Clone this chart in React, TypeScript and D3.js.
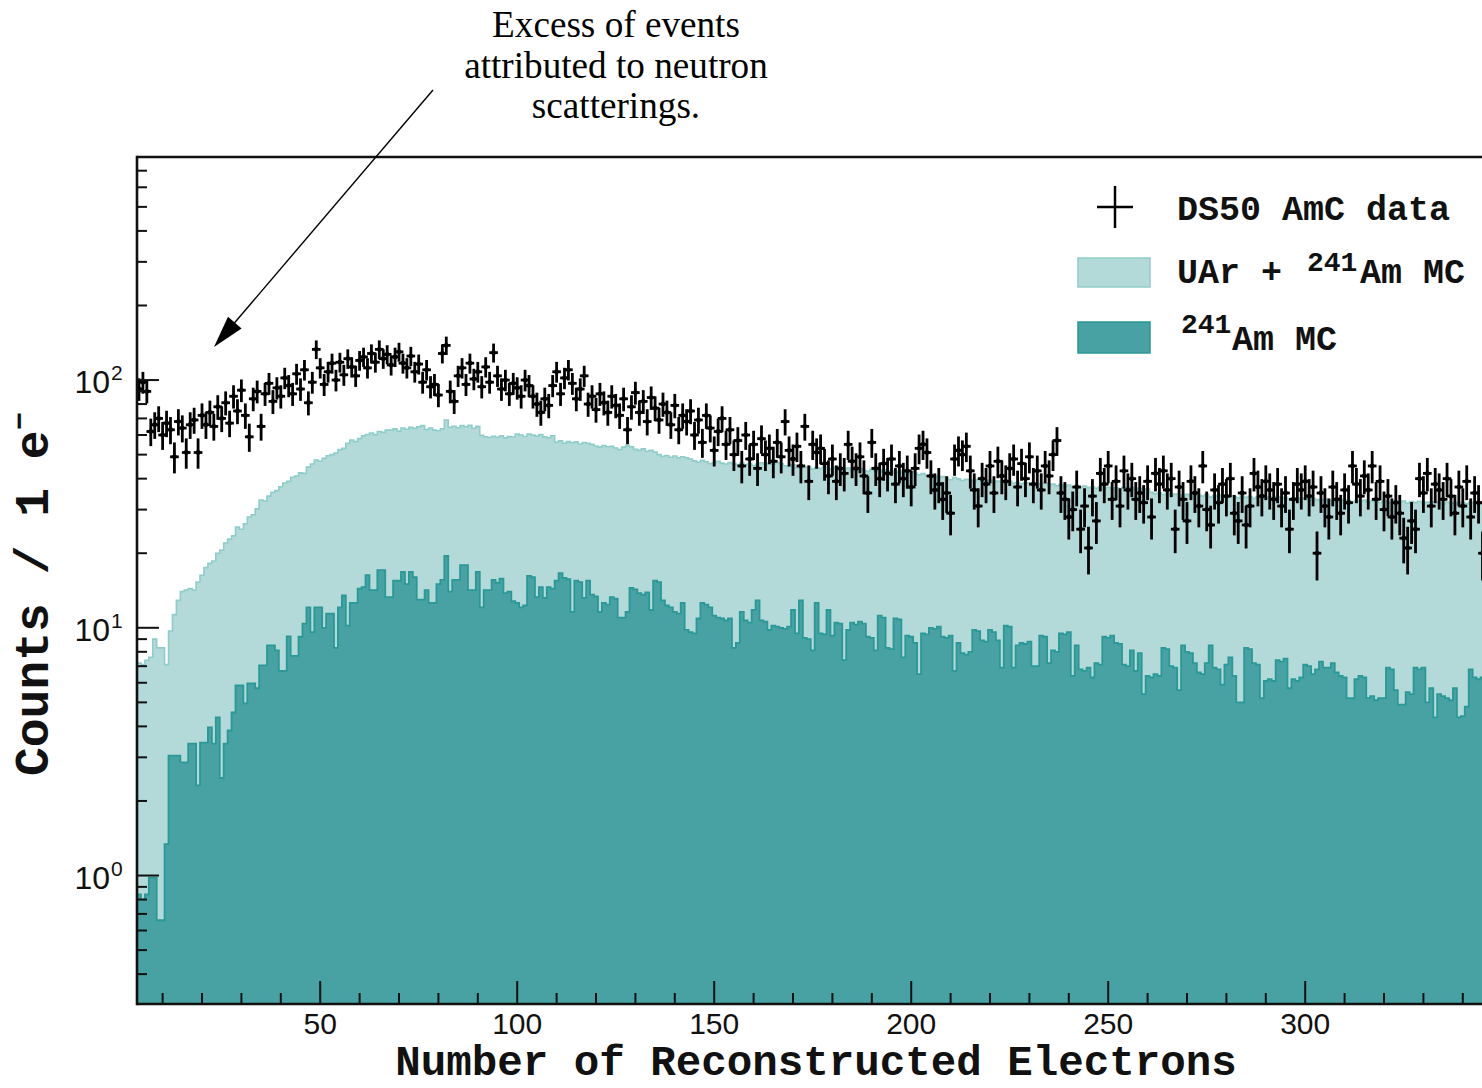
import React from "react";
import * as d3 from "d3";

// Histogram binning: 1 e- wide bins, the first one centred on 4 e-
const FIRST_BIN = 4;

// DS50 AmC data, counts per bin (bins 4 ... 345)
const dataCounts = [
  92, 98, 90, 62, 66, 70, 60, 67, 63, 49,
  68, 64, 51, 66, 69, 51, 72, 66, 74, 65,
  78, 70, 81, 67, 86, 75, 91, 72, 59, 84,
  90, 65, 88, 97, 82, 93, 86, 102, 95, 88,
  106, 92, 110, 81, 98, 133, 112, 96, 108, 117,
  100, 118, 105, 122, 113, 104, 120, 124, 112, 128,
  118, 133, 122, 127, 115, 124, 130, 117, 112, 125,
  108, 116, 98, 110, 94, 96, 87, 128, 138, 90,
  82, 104, 112, 96, 117, 101, 108, 94, 113, 98,
  129, 104, 92, 100, 88, 97, 93, 86, 100, 95,
  86, 80, 74, 84, 79, 95, 108, 88, 102, 110,
  97, 84, 92, 104, 80, 86, 76, 88, 81, 74,
  86, 79, 72, 84, 63, 78, 89, 74, 82, 68,
  85, 77, 69, 80, 74, 66, 79, 63, 72, 68,
  75, 60, 69, 56, 72, 64, 52, 62, 70, 55,
  63, 50, 57, 45, 60, 48, 55, 44, 58, 50,
  53, 47, 56, 49, 68, 52, 48, 54, 45, 65,
  39, 55, 51, 53, 46, 41, 48, 39, 44, 42,
  55, 47, 44, 49, 41, 35, 56, 44, 40, 46,
  42, 48, 38, 45, 40, 43, 37, 44, 53, 55,
  51, 41, 36, 38, 33, 35, 29, 48, 52, 50,
  54, 43, 36, 31, 40, 38, 45, 35, 47, 41,
  39, 44, 48, 37, 46, 40, 49, 38, 43, 36,
  45, 41, 50, 57, 35, 33, 28, 30, 37, 25,
  31, 21, 34, 27, 42, 38, 45, 33, 39, 31,
  43, 36, 40, 33, 35, 32, 39, 28, 42, 38,
  43, 36, 40, 25, 37, 33, 27, 39, 35, 31,
  45, 30, 26, 36, 32, 38, 34, 40, 29, 27,
  35, 26, 31, 42, 37, 34, 39, 36, 33, 38,
  31, 35, 25, 33, 38, 36, 39, 34, 37, 20,
  35, 31, 28, 37, 33, 29, 36, 32, 45, 38,
  34, 41, 36, 45, 33, 39, 30, 34, 28, 32,
  29, 23, 21, 27, 25, 40, 35, 42, 31, 38,
  36, 33, 40, 34, 29, 37, 31, 39, 28, 35,
  32, 20,
];

// UAr + 241Am Monte Carlo prediction (bins 4 ... 345)
const uarAmMC = [
  7.2, 7.1, 7.4, 7.6, 9.0, 8.3, 8.3, 7.1, 9.7, 11.3,
  12.9, 14.0, 14.2, 14.4, 14.2, 15.3, 16.3, 17.5, 18.2, 18.6,
  20.0, 20.6, 22.0, 22.8, 23.5, 25.5, 25.0, 26.3, 28.0, 28.6,
  30.2, 32.8, 32.5, 34.0, 35.2, 35.8, 37.1, 38.4, 39.0, 40.5,
  41.0, 42.2, 42.0, 44.5, 45.8, 47.6, 47.0, 48.3, 49.5, 50.0,
  50.8, 52.4, 53.0, 55.5, 57.3, 56.4, 58.0, 59.5, 60.3, 61.1,
  60.2, 62.0, 61.5, 62.8, 62.8, 63.5, 62.2, 64.0, 63.3, 64.5,
  63.8, 64.8, 65.5, 63.2, 64.0, 62.8, 62.4, 63.5, 69.0, 64.5,
  65.0, 64.2, 65.5, 64.8, 65.6, 63.9, 65.0, 59.8, 59.0, 58.6,
  59.3, 58.8, 59.5, 58.4, 59.1, 58.9, 60.6, 60.0, 59.2, 60.5,
  60.0, 59.4, 60.2, 59.0, 58.5, 59.6, 56.2, 56.8, 55.6, 56.4,
  55.8, 56.3, 55.2, 56.0, 55.5, 55.0, 54.2, 53.6, 54.4, 53.8,
  54.0, 53.2, 52.4, 53.6, 54.5, 53.8, 52.5, 52.0, 52.8, 51.6,
  52.0, 51.2, 50.0, 49.2, 49.6, 48.8, 49.4, 48.5, 49.0, 48.6,
  48.0, 47.2, 46.6, 47.4, 46.8, 46.0, 46.5, 47.0, 46.2, 45.8,
  46.4, 46.0, 45.6, 46.2, 45.5, 46.0, 45.2, 45.8, 46.3, 45.7,
  46.2, 45.6, 46.4, 45.9, 45.1, 44.8, 45.5, 44.2, 44.9, 44.4,
  44.6, 43.7, 44.3, 44.0, 44.8, 43.5, 43.9, 44.5, 43.6, 43.8,
  44.1, 43.4, 43.0, 43.9, 43.2, 42.8, 43.6, 43.1, 42.5, 43.3,
  42.7, 43.0, 42.2, 42.9, 42.4, 41.8, 42.6, 42.0, 41.5, 41.9,
  41.2, 40.6, 41.0, 40.3, 40.8, 40.1, 39.6, 40.4, 39.9, 39.3,
  39.8, 39.5, 39.0, 39.7, 39.2, 38.8, 39.4, 38.6, 39.1, 38.9,
  38.5, 39.0, 38.3, 38.7, 38.1, 38.6, 38.4, 37.8, 38.2, 37.9,
  38.3, 37.6, 38.0, 37.4, 37.9, 37.2, 37.7, 37.0, 37.5, 36.9,
  37.3, 36.8, 37.1, 36.6, 37.0, 36.4, 36.9, 36.2, 36.7, 36.5,
  36.9, 36.4, 36.8, 36.2, 36.6, 35.9, 36.3, 35.2, 34.8, 35.1,
  34.5, 34.9, 34.2, 34.7, 34.4, 34.0, 34.6, 34.1, 33.8, 34.3,
  34.0, 34.5, 33.7, 34.2, 33.9, 34.4, 33.6, 34.1, 33.8, 33.5,
  34.0, 33.6, 33.9, 33.3, 33.8, 33.5, 33.2, 33.7, 33.4, 33.9,
  33.3, 33.6, 33.1, 33.5, 33.0, 33.4, 33.2, 32.8, 33.3, 32.9,
  32.6, 33.0, 32.4, 32.8, 32.5, 32.9, 32.3, 32.7, 32.2, 32.6,
  32.4, 32.8, 32.1, 32.5, 32.3, 32.0, 32.6, 32.2, 31.9, 32.4,
  32.1, 32.5, 31.8, 32.3, 32.0, 32.4, 31.7, 32.2, 31.9, 32.3,
  32.0, 31.6, 32.2, 31.8, 32.1, 31.5, 32.0, 31.7, 32.2, 31.9,
  31.6, 32.0,
];

// 241Am Monte Carlo prediction (bins 4 ... 345)
const amMC = [
  0.84, 0.8, 0.84, 0.98, 0.98, 0.66, 0.66, 1.34, 3.05, 3.05,
  3.05, 2.86, 2.86, 3.41, 3.41, 2.31, 3.44, 3.44, 3.96, 3.41,
  4.35, 2.48, 3.41, 3.85, 4.55, 5.85, 5.85, 4.95, 5.96, 5.96,
  5.7, 7.05, 7.05, 8.5, 8.5, 8.1, 6.7, 6.7, 9.24, 7.7,
  7.7, 9.2, 10.4, 12.1, 9.6, 12.1, 12.1, 10.0, 11.4, 11.4,
  8.3, 12.1, 13.5, 10.2, 12.6, 12.6, 14.4, 14.6, 16.3, 14.2,
  14.2, 17.1, 17.1, 13.3, 13.3, 15.5, 15.5, 16.8, 15.0, 16.8,
  16.0, 13.0, 13.0, 14.2, 12.6, 12.6, 15.0, 15.6, 19.5, 14.0,
  15.6, 15.6, 17.9, 17.9, 14.2, 14.2, 16.8, 12.1, 14.2, 14.2,
  15.6, 15.2, 15.8, 13.8, 14.0, 12.8, 12.6, 12.1, 12.3, 16.2,
  16.0, 13.3, 14.6, 13.2, 14.6, 14.4, 15.5, 16.6, 15.9, 15.7,
  11.6, 15.5, 15.3, 13.2, 15.5, 13.6, 13.4, 11.6, 12.6, 12.4,
  13.3, 13.1, 11.0, 11.0, 11.6, 14.5, 14.3, 13.8, 13.6, 13.9,
  11.8, 15.5, 15.3, 12.9, 12.3, 12.1, 11.6, 11.4, 12.6, 9.8,
  9.6, 9.5, 10.9, 12.6, 12.4, 12.1, 11.2, 11.0, 10.9, 10.7,
  10.9, 8.3, 8.7, 11.6, 10.7, 10.5, 11.8, 12.9, 10.7, 10.6,
  9.8, 10.2, 10.1, 10.0, 9.9, 10.1, 11.8, 9.5, 12.9, 9.1,
  9.0, 8.1, 12.6, 9.5, 9.4, 11.8, 9.3, 10.5, 10.4, 7.4,
  9.8, 10.5, 10.3, 10.6, 10.4, 9.2, 9.1, 8.1, 11.2, 11.0,
  8.3, 8.2, 10.9, 10.8, 7.6, 9.3, 9.2, 8.7, 6.5, 9.5,
  9.4, 10.0, 9.9, 10.1, 9.2, 9.1, 9.3, 6.7, 8.7, 7.9,
  7.8, 8.0, 9.8, 9.7, 8.9, 8.8, 9.8, 9.6, 8.9, 6.9,
  10.2, 10.1, 6.9, 8.5, 8.7, 8.6, 8.8, 7.0, 7.0, 9.3,
  9.2, 7.2, 8.1, 8.0, 9.5, 9.4, 9.6, 6.4, 8.5, 6.8,
  6.7, 6.9, 6.3, 7.2, 7.1, 9.2, 9.1, 9.3, 8.7, 8.6,
  7.1, 7.0, 8.1, 6.7, 7.9, 5.4, 6.4, 6.3, 6.5, 6.4,
  8.3, 8.2, 7.0, 6.9, 5.6, 8.5, 8.0, 7.9, 7.2, 6.6,
  6.5, 7.2, 8.5, 6.9, 6.8, 5.9, 7.1, 7.6, 6.4, 5.0,
  5.0, 8.3, 8.2, 7.2, 7.1, 5.2, 6.1, 6.2, 6.1, 7.4,
  7.3, 7.5, 5.7, 6.2, 6.1, 6.3, 7.1, 7.0, 6.5, 6.8,
  7.3, 6.9, 6.9, 7.2, 6.6, 6.4, 6.3, 5.2, 5.2, 6.2,
  6.4, 6.3, 5.2, 5.3, 5.1, 5.2, 5.2, 6.9, 6.8, 5.6,
  4.9, 4.9, 5.5, 5.4, 6.9, 6.8, 6.9, 5.0, 5.7, 4.35,
  5.4, 5.3, 5.2, 5.1, 5.7, 4.35, 4.4, 4.8, 6.8, 6.3,
  6.2, 6.3,
];

const xLabelTicks = [50, 100, 150, 200, 250, 300];
const yDecadeTicks = [1, 10, 100];
const yDecadeExponents = ["0", "1", "2"];

const W = 1482;
const H = 1088;
const PLOT = { left: 137, top: 157, bottom: 1004, right: 1482.5 };

const LIGHT_FILL = "#b3dad9";
const LIGHT_LINE = "#8ecdc9";
const DARK_FILL = "#48a2a3";
const DARK_LINE = "#2a9896";
const MONO = "'Liberation Mono', 'Courier New', monospace";
const SANS = "'Liberation Sans', Arial, sans-serif";
const SERIF = "'Liberation Serif', 'Times New Roman', serif";

const x = d3.scaleLinear().domain([3.5, 345]).range([PLOT.left, PLOT.right]);
const y = d3.scaleLog().domain([0.303, 795]).range([PLOT.bottom, PLOT.top]);

type StepPt = [number, number];

function stepPoints(values: number[]): StepPt[] {
  const pts: StepPt[] = [];
  values.forEach((v, i) => {
    const c = FIRST_BIN + i;
    pts.push([c - 0.5, v], [c + 0.5, v]);
  });
  return pts;
}

const histArea = d3
  .area<StepPt>()
  .x((d) => x(d[0]))
  .y0(PLOT.bottom)
  .y1((d) => y(d[1]));

const histLine = d3
  .line<StepPt>()
  .x((d) => x(d[0]))
  .y((d) => y(d[1]));

// half-length of the horizontal arm of a data cross, in bins
const CROSS_ARM = 1.1;

export default function App() {
  const lightPts = stepPoints(uarAmMC);
  const darkPts = stepPoints(amMC);

  const xMinor = x.ticks(35).filter((t) => t % 50 !== 0 && t > 3.5);
  const yMinor = y.ticks().filter((t) => !yDecadeTicks.includes(t));

  return (
    <svg
      width={W}
      height={H}
      viewBox={`0 0 ${W} ${H}`}
      style={{ position: "absolute", left: 0, top: 0, background: "#fff" }}
    >
      <defs>
        <clipPath id="plotClip">
          <rect
            x={PLOT.left}
            y={PLOT.top}
            width={PLOT.right - PLOT.left + 10}
            height={PLOT.bottom - PLOT.top}
          />
        </clipPath>
      </defs>

      <rect x={0} y={0} width={W} height={H} fill="#fff" />

      <g clipPath="url(#plotClip)">
        {/* UAr + 241Am MC */}
        <path d={histArea(lightPts) ?? ""} fill={LIGHT_FILL} />
        <path d={histLine(lightPts) ?? ""} fill="none" stroke={LIGHT_LINE} strokeWidth={1.6} />
        {/* 241Am MC */}
        <path d={histArea(darkPts) ?? ""} fill={DARK_FILL} />
        <path d={histLine(darkPts) ?? ""} fill="none" stroke={DARK_LINE} strokeWidth={1.8} />

        {/* DS50 AmC data with Poisson errors */}
        <g stroke="#000" strokeWidth={2.8}>
          {dataCounts.map((n, i) => {
            const c = FIRST_BIN + i;
            const err = Math.sqrt(n);
            const cx = x(c);
            const cy = y(n);
            return (
              <g key={c}>
                <line x1={cx} x2={cx} y1={y(n + err)} y2={y(Math.max(n - err, 0.31))} />
                <line x1={x(c - CROSS_ARM)} x2={x(c + CROSS_ARM)} y1={cy} y2={cy} />
                <circle cx={cx} cy={cy} r={2.4} fill="#000" stroke="none" />
              </g>
            );
          })}
        </g>
      </g>

      {/* frame */}
      <g stroke="#111" strokeWidth={2.6} fill="none">
        <line x1={PLOT.left} x2={PLOT.left} y1={PLOT.top - 1.3} y2={PLOT.bottom + 1.3} />
        <line x1={PLOT.left} x2={W + 5} y1={PLOT.top} y2={PLOT.top} />
        <line x1={PLOT.left} x2={W + 5} y1={PLOT.bottom} y2={PLOT.bottom} />
      </g>

      {/* ticks */}
      <g stroke="#111" strokeWidth={2}>
        {xLabelTicks.map((t) => (
          <line key={`xM${t}`} x1={x(t)} x2={x(t)} y1={PLOT.bottom} y2={PLOT.bottom - 23} />
        ))}
        {xMinor.map((t) => (
          <line key={`xm${t}`} x1={x(t)} x2={x(t)} y1={PLOT.bottom} y2={PLOT.bottom - 11} />
        ))}
        {yDecadeTicks.map((t) => (
          <line key={`yM${t}`} x1={PLOT.left} x2={PLOT.left + 22} y1={y(t)} y2={y(t)} />
        ))}
        {yMinor.map((t) => (
          <line key={`ym${t}`} x1={PLOT.left} x2={PLOT.left + 10} y1={y(t)} y2={y(t)} />
        ))}
      </g>

      {/* x tick labels */}
      <g fontFamily={SANS} fontSize={30} fill="#111" textAnchor="middle">
        {xLabelTicks.map((t) => (
          <text key={`xl${t}`} x={x(t)} y={1034}>
            {t}
          </text>
        ))}
      </g>

      {/* y tick labels */}
      <g fontFamily={SANS} fill="#111">
        {yDecadeTicks.map((t, i) => (
          <g key={`yl${t}`}>
            <text x={110} y={y(t) + 13} fontSize={32} textAnchor="end">
              10
            </text>
            <text x={111} y={y(t)} fontSize={21}>
              {yDecadeExponents[i]}
            </text>
          </g>
        ))}
      </g>

      {/* axis titles */}
      <text
        x={816}
        y={1075}
        fontFamily={MONO}
        fontWeight="bold"
        fontSize={42.5}
        textAnchor="middle"
        fill="#111"
      >
        Number of Reconstructed Electrons
      </text>
      <text
        transform="translate(48,776) rotate(-90)"
        fontFamily={MONO}
        fontWeight="bold"
        fontSize={48}
        fill="#111"
        style={{ whiteSpace: "pre" }}
      >
        Counts / 1 e
        <tspan fontSize={30} dy={-19}>
          −
        </tspan>
      </text>

      {/* legend */}
      <g fontFamily={MONO} fontWeight="bold" fill="#111">
        <line x1={1097} x2={1133} y1={207} y2={207} stroke="#000" strokeWidth={2.5} />
        <line x1={1115} x2={1115} y1={186} y2={228} stroke="#000" strokeWidth={2.5} />
        <text x={1177} y={220} fontSize={35}>
          DS50 AmC data
        </text>

        <rect x={1078} y={258} width={72} height={29} fill={LIGHT_FILL} stroke={LIGHT_LINE} strokeWidth={1.5} />
        <text x={1177} y={283} fontSize={35}>
          UAr +
        </text>
        <text x={1307} y={271} fontSize={28}>
          241
        </text>
        <text x={1360} y={283} fontSize={35}>
          Am MC
        </text>

        <rect x={1078} y={322} width={72} height={31} fill={DARK_FILL} stroke={DARK_LINE} strokeWidth={1.5} />
        <text x={1181} y={333} fontSize={28}>
          241
        </text>
        <text x={1232} y={350} fontSize={35}>
          Am MC
        </text>
      </g>

      {/* annotation */}
      <g fontFamily={SERIF} fontSize={37.2} fill="#000" textAnchor="middle">
        <text x={616} y={37}>Excess of events</text>
        <text x={616} y={78}>attributed to neutron</text>
        <text x={616} y={118}>scatterings.</text>
      </g>
      <line x1={433} y1={90} x2={231} y2={327} stroke="#000" strokeWidth={1.4} />
      <polygon points="214,347 241.6,328.4 228,316.8" fill="#000" />
    </svg>
  );
}
